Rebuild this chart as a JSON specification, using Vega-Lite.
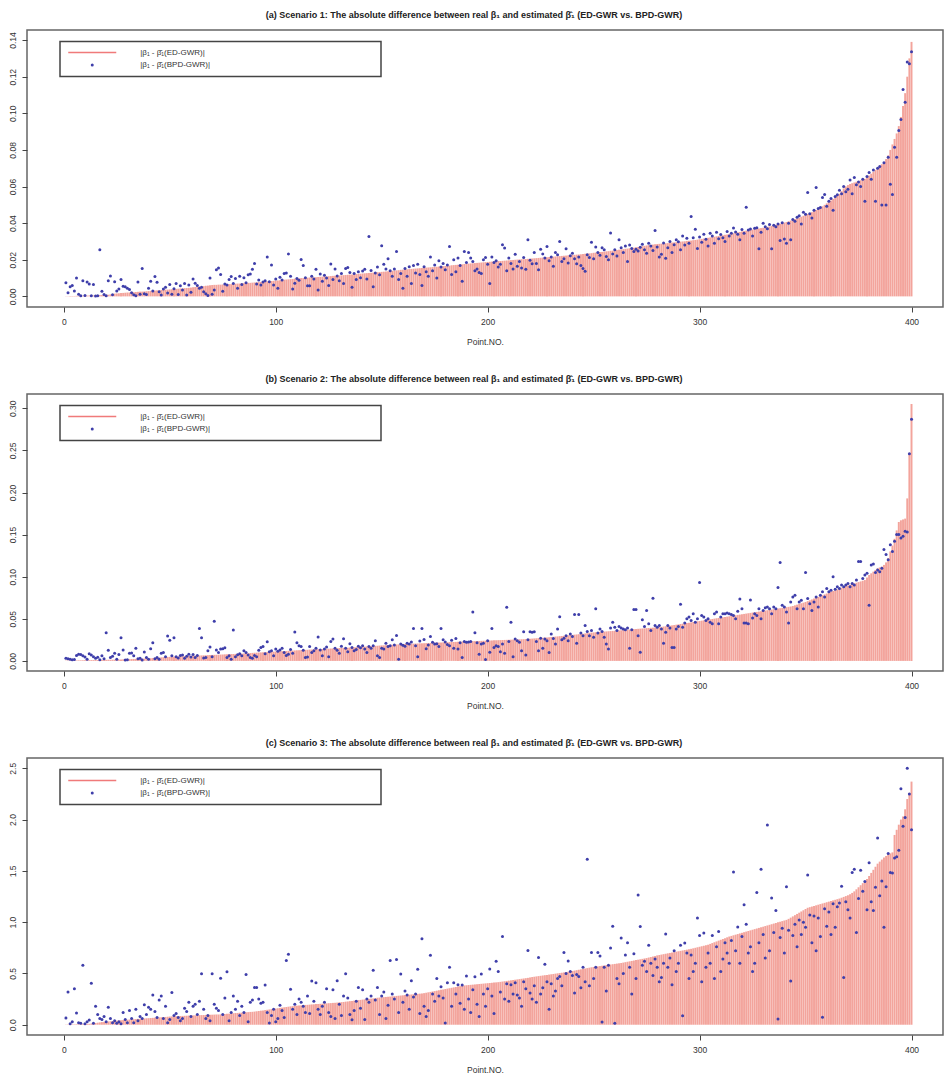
{
"$schema":"https://vega.github.io/schema/vega-lite/v6.json",
"background":"white",
"padding":{"left":7,"top":10,"right":0,"bottom":0},
"spacing":27,
"config":{
"view":{"stroke":"#666","strokeWidth":1.5},
"font":"Liberation Sans",
"axis":{"grid":false,"domain":false,"tickColor":"#444","tickSize":5,"labelColor":"#333","labelFontSize":8.5,"labelFont":"Liberation Sans","titleFont":"Liberation Sans","titleFontWeight":"normal","titleFontSize":8.5,"titleColor":"#333","labelOverlap":false},
"axisX":{"labelPadding":5,"titlePadding":12},
"axisY":{"labelAngle":270,"labelAlign":"center","labelBaseline":"bottom","labelPadding":5,"labelOverlap":false},
"title":{"fontSize":9,"fontWeight":"bold","color":"#222","offset":10,"dx":-11,"font":"Liberation Sans"},
"legend":{"strokeColor":"#444","strokeWidth":1.5}
},
"resolve":{"scale":{"x":"independent","y":"independent","color":"independent"},"legend":{"color":"independent"}},
"datasets":{
"a":[
{"p":1,"e":0.0001,"b":0.0075},{"p":2,"e":0.0001,"b":0.002},{"p":3,"e":0.0002,"b":0.0052},{"p":4,"e":0.0002,"b":0.006},{"p":5,"e":0.0002,"b":0.003},{"p":6,"e":0.0003,"b":0.01},{"p":7,"e":0.0003,"b":0.0012},{"p":8,"e":0.0003,"b":0.0004},{"p":9,"e":0.0004,"b":0.0085},{"p":10,"e":0.0004,"b":0.0005},
{"p":11,"e":0.0004,"b":0.0078},{"p":12,"e":0.0005,"b":0.0068},{"p":13,"e":0.0005,"b":0.0003},{"p":14,"e":0.0005,"b":0.0065},{"p":15,"e":0.0006,"b":0.0002},{"p":16,"e":0.0006,"b":0.0004},{"p":17,"e":0.0007,"b":0.0255},{"p":18,"e":0.0007,"b":0.0028},{"p":19,"e":0.0008,"b":0.001},{"p":20,"e":0.0008,"b":0.0004},
{"p":21,"e":0.0009,"b":0.0085},{"p":22,"e":0.0011,"b":0.0112},{"p":23,"e":0.0013,"b":0.0009},{"p":24,"e":0.0015,"b":0.008},{"p":25,"e":0.0016,"b":0.003},{"p":26,"e":0.0017,"b":0.004},{"p":27,"e":0.0018,"b":0.0092},{"p":28,"e":0.0019,"b":0.0056},{"p":29,"e":0.002,"b":0.0052},{"p":30,"e":0.0021,"b":0.0045},
{"p":31,"e":0.0021,"b":0.0038},{"p":32,"e":0.0022,"b":0.002},{"p":33,"e":0.0023,"b":0.0009},{"p":34,"e":0.0024,"b":0.0003},{"p":35,"e":0.0025,"b":0.0078},{"p":36,"e":0.0026,"b":0.0012},{"p":37,"e":0.0026,"b":0.0152},{"p":38,"e":0.0027,"b":0.0015},{"p":39,"e":0.0028,"b":0.001},{"p":40,"e":0.0029,"b":0.0045},
{"p":41,"e":0.003,"b":0.0082},{"p":42,"e":0.0031,"b":0.003},{"p":43,"e":0.0032,"b":0.0108},{"p":44,"e":0.0033,"b":0.0077},{"p":45,"e":0.0034,"b":0.0025},{"p":46,"e":0.0035,"b":0.0008},{"p":47,"e":0.0036,"b":0.004},{"p":48,"e":0.0037,"b":0.005},{"p":49,"e":0.0037,"b":0.0018},{"p":50,"e":0.0038,"b":0.0065},
{"p":51,"e":0.0039,"b":0.0012},{"p":52,"e":0.004,"b":0.0042},{"p":53,"e":0.0041,"b":0.007},{"p":54,"e":0.0042,"b":0.001},{"p":55,"e":0.0043,"b":0.0058},{"p":56,"e":0.0044,"b":0.0035},{"p":57,"e":0.0045,"b":0.007},{"p":58,"e":0.0046,"b":0.0008},{"p":59,"e":0.0047,"b":0.0062},{"p":60,"e":0.0048,"b":0.0022},
{"p":61,"e":0.005,"b":0.0095},{"p":62,"e":0.0051,"b":0.0072},{"p":63,"e":0.0053,"b":0.006},{"p":64,"e":0.0054,"b":0.0045},{"p":65,"e":0.0055,"b":0.005},{"p":66,"e":0.0056,"b":0.0025},{"p":67,"e":0.0058,"b":0.0015},{"p":68,"e":0.0059,"b":0.0005},{"p":69,"e":0.0061,"b":0.01},{"p":70,"e":0.0062,"b":0.0012},
{"p":71,"e":0.0063,"b":0.0035},{"p":72,"e":0.0063,"b":0.0145},{"p":73,"e":0.0064,"b":0.0155},{"p":74,"e":0.0064,"b":0.012},{"p":75,"e":0.0065,"b":0.0028},{"p":76,"e":0.0066,"b":0.0068},{"p":77,"e":0.0066,"b":0.0062},{"p":78,"e":0.0067,"b":0.0092},{"p":79,"e":0.0067,"b":0.0108},{"p":80,"e":0.0068,"b":0.007},
{"p":81,"e":0.0069,"b":0.0098},{"p":82,"e":0.007,"b":0.0045},{"p":83,"e":0.007,"b":0.011},{"p":84,"e":0.0071,"b":0.0065},{"p":85,"e":0.0072,"b":0.0102},{"p":86,"e":0.0073,"b":0.0075},{"p":87,"e":0.0074,"b":0.0118},{"p":88,"e":0.0074,"b":0.0122},{"p":89,"e":0.0075,"b":0.0148},{"p":90,"e":0.0076,"b":0.018},
{"p":91,"e":0.0077,"b":0.0068},{"p":92,"e":0.0078,"b":0.009},{"p":93,"e":0.0079,"b":0.0062},{"p":94,"e":0.008,"b":0.0078},{"p":95,"e":0.0081,"b":0.0085},{"p":96,"e":0.0082,"b":0.0215},{"p":97,"e":0.0083,"b":0.008},{"p":98,"e":0.0084,"b":0.0172},{"p":99,"e":0.0085,"b":0.0062},{"p":100,"e":0.0086,"b":0.0095},
{"p":101,"e":0.0087,"b":0.0045},{"p":102,"e":0.0088,"b":0.0105},{"p":103,"e":0.0089,"b":0.009},{"p":104,"e":0.0091,"b":0.0125},{"p":105,"e":0.0092,"b":0.0128},{"p":106,"e":0.0093,"b":0.0232},{"p":107,"e":0.0094,"b":0.011},{"p":108,"e":0.0095,"b":0.004},{"p":109,"e":0.0097,"b":0.0072},{"p":110,"e":0.0098,"b":0.0098},
{"p":111,"e":0.0099,"b":0.0088},{"p":112,"e":0.01,"b":0.0202},{"p":113,"e":0.01,"b":0.0168},{"p":114,"e":0.0101,"b":0.0102},{"p":115,"e":0.0102,"b":0.0058},{"p":116,"e":0.0103,"b":0.0058},{"p":117,"e":0.0104,"b":0.011},{"p":118,"e":0.0104,"b":0.0095},{"p":119,"e":0.0105,"b":0.0148},{"p":120,"e":0.0106,"b":0.0035},
{"p":121,"e":0.0107,"b":0.0122},{"p":122,"e":0.0108,"b":0.0082},{"p":123,"e":0.0109,"b":0.0115},{"p":124,"e":0.0109,"b":0.01},{"p":125,"e":0.011,"b":0.006},{"p":126,"e":0.0111,"b":0.0177},{"p":127,"e":0.0112,"b":0.0092},{"p":128,"e":0.0113,"b":0.015},{"p":129,"e":0.0113,"b":0.0112},{"p":130,"e":0.0114,"b":0.0085},
{"p":131,"e":0.0115,"b":0.0125},{"p":132,"e":0.0116,"b":0.007},{"p":133,"e":0.0117,"b":0.0152},{"p":134,"e":0.0118,"b":0.0158},{"p":135,"e":0.0119,"b":0.013},{"p":136,"e":0.012,"b":0.005},{"p":137,"e":0.0121,"b":0.0125},{"p":138,"e":0.0122,"b":0.0092},{"p":139,"e":0.0123,"b":0.0135},{"p":140,"e":0.0124,"b":0.0102},
{"p":141,"e":0.0125,"b":0.0138},{"p":142,"e":0.0126,"b":0.0148},{"p":143,"e":0.0127,"b":0.0095},{"p":144,"e":0.0128,"b":0.0327},{"p":145,"e":0.0129,"b":0.0142},{"p":146,"e":0.013,"b":0.0052},{"p":147,"e":0.0131,"b":0.0128},{"p":148,"e":0.0132,"b":0.016},{"p":149,"e":0.0133,"b":0.0118},{"p":150,"e":0.0134,"b":0.0276},
{"p":151,"e":0.0135,"b":0.0175},{"p":152,"e":0.0136,"b":0.015},{"p":153,"e":0.0137,"b":0.0205},{"p":154,"e":0.0139,"b":0.014},{"p":155,"e":0.014,"b":0.011},{"p":156,"e":0.0141,"b":0.015},{"p":157,"e":0.0142,"b":0.0245},{"p":158,"e":0.0143,"b":0.0092},{"p":159,"e":0.0145,"b":0.0125},{"p":160,"e":0.0146,"b":0.0045},
{"p":161,"e":0.0147,"b":0.0152},{"p":162,"e":0.0148,"b":0.011},{"p":163,"e":0.0149,"b":0.0162},{"p":164,"e":0.015,"b":0.007},{"p":165,"e":0.0151,"b":0.0168},{"p":166,"e":0.0152,"b":0.0128},{"p":167,"e":0.0153,"b":0.0175},{"p":168,"e":0.0154,"b":0.012},{"p":169,"e":0.0155,"b":0.006},{"p":170,"e":0.0156,"b":0.0162},
{"p":171,"e":0.0157,"b":0.0135},{"p":172,"e":0.0158,"b":0.011},{"p":173,"e":0.0159,"b":0.0215},{"p":174,"e":0.016,"b":0.014},{"p":175,"e":0.0161,"b":0.0172},{"p":176,"e":0.0162,"b":0.01},{"p":177,"e":0.0163,"b":0.0195},{"p":178,"e":0.0164,"b":0.016},{"p":179,"e":0.0165,"b":0.018},{"p":180,"e":0.0166,"b":0.0145},
{"p":181,"e":0.0167,"b":0.0172},{"p":182,"e":0.0168,"b":0.0273},{"p":183,"e":0.017,"b":0.012},{"p":184,"e":0.0171,"b":0.02},{"p":185,"e":0.0172,"b":0.0135},{"p":186,"e":0.0173,"b":0.021},{"p":187,"e":0.0174,"b":0.0168},{"p":188,"e":0.0175,"b":0.0082},{"p":189,"e":0.0177,"b":0.0245},{"p":190,"e":0.0178,"b":0.0185},
{"p":191,"e":0.0179,"b":0.024},{"p":192,"e":0.018,"b":0.021},{"p":193,"e":0.0181,"b":0.019},{"p":194,"e":0.0182,"b":0.014},{"p":195,"e":0.0183,"b":0.015},{"p":196,"e":0.0184,"b":0.013},{"p":197,"e":0.0185,"b":0.0125},{"p":198,"e":0.0186,"b":0.02},{"p":199,"e":0.0187,"b":0.0212},{"p":200,"e":0.0188,"b":0.0175},
{"p":201,"e":0.0189,"b":0.0071},{"p":202,"e":0.019,"b":0.0215},{"p":203,"e":0.0191,"b":0.0185},{"p":204,"e":0.0192,"b":0.0195},{"p":205,"e":0.0193,"b":0.016},{"p":206,"e":0.0193,"b":0.0175},{"p":207,"e":0.0194,"b":0.0282},{"p":208,"e":0.0195,"b":0.0264},{"p":209,"e":0.0196,"b":0.014},{"p":210,"e":0.0197,"b":0.021},
{"p":211,"e":0.0198,"b":0.018},{"p":212,"e":0.0199,"b":0.015},{"p":213,"e":0.02,"b":0.023},{"p":214,"e":0.0201,"b":0.0165},{"p":215,"e":0.0202,"b":0.019},{"p":216,"e":0.0203,"b":0.0155},{"p":217,"e":0.0203,"b":0.0212},{"p":218,"e":0.0204,"b":0.0148},{"p":219,"e":0.0205,"b":0.0309},{"p":220,"e":0.0206,"b":0.0198},
{"p":221,"e":0.0207,"b":0.0178},{"p":222,"e":0.0208,"b":0.024},{"p":223,"e":0.0209,"b":0.018},{"p":224,"e":0.021,"b":0.0145},{"p":225,"e":0.0211,"b":0.0258},{"p":226,"e":0.0212,"b":0.0232},{"p":227,"e":0.0213,"b":0.021},{"p":228,"e":0.0214,"b":0.0273},{"p":229,"e":0.0215,"b":0.0195},{"p":230,"e":0.0216,"b":0.0215},
{"p":231,"e":0.0217,"b":0.0165},{"p":232,"e":0.0218,"b":0.024},{"p":233,"e":0.0219,"b":0.0228},{"p":234,"e":0.022,"b":0.03},{"p":235,"e":0.0221,"b":0.019},{"p":236,"e":0.0222,"b":0.0205},{"p":237,"e":0.0223,"b":0.026},{"p":238,"e":0.0224,"b":0.0182},{"p":239,"e":0.0225,"b":0.0222},{"p":240,"e":0.0226,"b":0.0235},
{"p":241,"e":0.0227,"b":0.0205},{"p":242,"e":0.0228,"b":0.0178},{"p":243,"e":0.0229,"b":0.0215},{"p":244,"e":0.023,"b":0.0168},{"p":245,"e":0.0231,"b":0.0152},{"p":246,"e":0.0233,"b":0.0137},{"p":247,"e":0.0234,"b":0.0228},{"p":248,"e":0.0235,"b":0.0212},{"p":249,"e":0.0236,"b":0.0295},{"p":250,"e":0.0238,"b":0.0205},
{"p":251,"e":0.0239,"b":0.027},{"p":252,"e":0.024,"b":0.024},{"p":253,"e":0.0242,"b":0.0225},{"p":254,"e":0.0243,"b":0.0265},{"p":255,"e":0.0244,"b":0.0255},{"p":256,"e":0.0246,"b":0.0218},{"p":257,"e":0.0247,"b":0.02},{"p":258,"e":0.0249,"b":0.0346},{"p":259,"e":0.025,"b":0.0232},{"p":260,"e":0.0252,"b":0.0255},
{"p":261,"e":0.0253,"b":0.022},{"p":262,"e":0.0255,"b":0.031},{"p":263,"e":0.0256,"b":0.0265},{"p":264,"e":0.0258,"b":0.024},{"p":265,"e":0.026,"b":0.0275},{"p":266,"e":0.0261,"b":0.019},{"p":267,"e":0.0263,"b":0.028},{"p":268,"e":0.0265,"b":0.0262},{"p":269,"e":0.0266,"b":0.0245},{"p":270,"e":0.0268,"b":0.0258},
{"p":271,"e":0.027,"b":0.0248},{"p":272,"e":0.0272,"b":0.0268},{"p":273,"e":0.0274,"b":0.0285},{"p":274,"e":0.0276,"b":0.0255},{"p":275,"e":0.0278,"b":0.0235},{"p":276,"e":0.028,"b":0.029},{"p":277,"e":0.0281,"b":0.0275},{"p":278,"e":0.0283,"b":0.025},{"p":279,"e":0.0285,"b":0.036},{"p":280,"e":0.0286,"b":0.027},
{"p":281,"e":0.0287,"b":0.0215},{"p":282,"e":0.0288,"b":0.023},{"p":283,"e":0.0289,"b":0.0292},{"p":284,"e":0.029,"b":0.0208},{"p":285,"e":0.0291,"b":0.0265},{"p":286,"e":0.0292,"b":0.03},{"p":287,"e":0.0294,"b":0.024},{"p":288,"e":0.0295,"b":0.0282},{"p":289,"e":0.0296,"b":0.031},{"p":290,"e":0.0298,"b":0.0298},
{"p":291,"e":0.0299,"b":0.0255},{"p":292,"e":0.03,"b":0.033},{"p":293,"e":0.0301,"b":0.028},{"p":294,"e":0.0303,"b":0.0318},{"p":295,"e":0.0304,"b":0.029},{"p":296,"e":0.0305,"b":0.0436},{"p":297,"e":0.0307,"b":0.032},{"p":298,"e":0.0308,"b":0.0367},{"p":299,"e":0.031,"b":0.0262},{"p":300,"e":0.0312,"b":0.0325},
{"p":301,"e":0.0314,"b":0.0295},{"p":302,"e":0.0316,"b":0.034},{"p":303,"e":0.0318,"b":0.0312},{"p":304,"e":0.032,"b":0.0275},{"p":305,"e":0.0322,"b":0.0345},{"p":306,"e":0.0324,"b":0.033},{"p":307,"e":0.0326,"b":0.029},{"p":308,"e":0.0328,"b":0.035},{"p":309,"e":0.033,"b":0.0315},{"p":310,"e":0.0332,"b":0.0338},
{"p":311,"e":0.0334,"b":0.032},{"p":312,"e":0.0336,"b":0.03},{"p":313,"e":0.0338,"b":0.0355},{"p":314,"e":0.0341,"b":0.033},{"p":315,"e":0.0343,"b":0.0345},{"p":316,"e":0.0345,"b":0.0373},{"p":317,"e":0.0348,"b":0.0352},{"p":318,"e":0.035,"b":0.034},{"p":319,"e":0.0352,"b":0.031},{"p":320,"e":0.0355,"b":0.0365},
{"p":321,"e":0.0357,"b":0.0345},{"p":322,"e":0.0359,"b":0.0487},{"p":323,"e":0.0361,"b":0.0362},{"p":324,"e":0.0363,"b":0.0368},{"p":325,"e":0.0365,"b":0.033},{"p":326,"e":0.0367,"b":0.0372},{"p":327,"e":0.0369,"b":0.0375},{"p":328,"e":0.0371,"b":0.026},{"p":329,"e":0.0373,"b":0.035},{"p":330,"e":0.0375,"b":0.04},
{"p":331,"e":0.0377,"b":0.038},{"p":332,"e":0.038,"b":0.037},{"p":333,"e":0.0382,"b":0.0392},{"p":334,"e":0.0385,"b":0.026},{"p":335,"e":0.0388,"b":0.0388},{"p":336,"e":0.0391,"b":0.038},{"p":337,"e":0.0394,"b":0.0395},{"p":338,"e":0.0397,"b":0.0305},{"p":339,"e":0.04,"b":0.0402},{"p":340,"e":0.0403,"b":0.0313},
{"p":341,"e":0.0406,"b":0.029},{"p":342,"e":0.041,"b":0.04},{"p":343,"e":0.0414,"b":0.031},{"p":344,"e":0.0418,"b":0.042},{"p":345,"e":0.0422,"b":0.041},{"p":346,"e":0.0426,"b":0.0432},{"p":347,"e":0.043,"b":0.044},{"p":348,"e":0.0435,"b":0.0395},{"p":349,"e":0.044,"b":0.046},{"p":350,"e":0.0445,"b":0.0448},
{"p":351,"e":0.045,"b":0.0568},{"p":352,"e":0.0455,"b":0.0452},{"p":353,"e":0.046,"b":0.0428},{"p":354,"e":0.0466,"b":0.047},{"p":355,"e":0.0472,"b":0.0595},{"p":356,"e":0.0478,"b":0.048},{"p":357,"e":0.0485,"b":0.0485},{"p":358,"e":0.0492,"b":0.054},{"p":359,"e":0.05,"b":0.0556},{"p":360,"e":0.0508,"b":0.0492},
{"p":361,"e":0.0516,"b":0.052},{"p":362,"e":0.0524,"b":0.0535},{"p":363,"e":0.0532,"b":0.047},{"p":364,"e":0.054,"b":0.0545},{"p":365,"e":0.055,"b":0.0555},{"p":366,"e":0.056,"b":0.058},{"p":367,"e":0.0575,"b":0.056},{"p":368,"e":0.059,"b":0.06},{"p":369,"e":0.06,"b":0.0572},{"p":370,"e":0.0608,"b":0.0585},
{"p":371,"e":0.0614,"b":0.0636},{"p":372,"e":0.0618,"b":0.056},{"p":373,"e":0.0622,"b":0.065},{"p":374,"e":0.0626,"b":0.061},{"p":375,"e":0.063,"b":0.0625},{"p":376,"e":0.0634,"b":0.06},{"p":377,"e":0.0638,"b":0.064},{"p":378,"e":0.0642,"b":0.052},{"p":379,"e":0.065,"b":0.0655},{"p":380,"e":0.066,"b":0.0677},
{"p":381,"e":0.067,"b":0.064},{"p":382,"e":0.068,"b":0.069},{"p":383,"e":0.069,"b":0.052},{"p":384,"e":0.07,"b":0.07},{"p":385,"e":0.071,"b":0.071},{"p":386,"e":0.0722,"b":0.0499},{"p":387,"e":0.0735,"b":0.073},{"p":388,"e":0.075,"b":0.0499},{"p":389,"e":0.077,"b":0.076},{"p":390,"e":0.08,"b":0.0613},
{"p":391,"e":0.083,"b":0.0556},{"p":392,"e":0.086,"b":0.0815},{"p":393,"e":0.089,"b":0.076},{"p":394,"e":0.093,"b":0.0906},{"p":395,"e":0.098,"b":0.0966},{"p":396,"e":0.104,"b":0.113},{"p":397,"e":0.111,"b":0.106},{"p":398,"e":0.12,"b":0.128},{"p":399,"e":0.13,"b":0.127},{"p":400,"e":0.139,"b":0.1336}
],
"b":[
{"p":1,"e":0.0003,"b":0.003},{"p":2,"e":0.0004,"b":0.0025},{"p":3,"e":0.0005,"b":0.002},{"p":4,"e":0.0005,"b":0.0015},{"p":5,"e":0.0006,"b":0.0018},{"p":6,"e":0.0006,"b":0.0065},{"p":7,"e":0.0007,"b":0.008},{"p":8,"e":0.0007,"b":0.0075},{"p":9,"e":0.0008,"b":0.006},{"p":10,"e":0.0008,"b":0.0045},
{"p":11,"e":0.0009,"b":0.002},{"p":12,"e":0.0009,"b":0.0085},{"p":13,"e":0.001,"b":0.007},{"p":14,"e":0.001,"b":0.005},{"p":15,"e":0.0011,"b":0.003},{"p":16,"e":0.0011,"b":0.0042},{"p":17,"e":0.0012,"b":0.0015},{"p":18,"e":0.0012,"b":0.006},{"p":19,"e":0.0013,"b":0.0025},{"p":20,"e":0.0013,"b":0.0335},
{"p":21,"e":0.0014,"b":0.0126},{"p":22,"e":0.0014,"b":0.004},{"p":23,"e":0.0015,"b":0.0055},{"p":24,"e":0.0015,"b":0.0092},{"p":25,"e":0.0016,"b":0.002},{"p":26,"e":0.0016,"b":0.0075},{"p":27,"e":0.0017,"b":0.0275},{"p":28,"e":0.0018,"b":0.013},{"p":29,"e":0.0019,"b":0.0012},{"p":30,"e":0.002,"b":0.0015},
{"p":31,"e":0.0021,"b":0.009},{"p":32,"e":0.0022,"b":0.0095},{"p":33,"e":0.0023,"b":0.006},{"p":34,"e":0.0024,"b":0.015},{"p":35,"e":0.0025,"b":0.0025},{"p":36,"e":0.0026,"b":0.003},{"p":37,"e":0.0027,"b":0.001},{"p":38,"e":0.0028,"b":0.0105},{"p":39,"e":0.0029,"b":0.004},{"p":40,"e":0.003,"b":0.002},
{"p":41,"e":0.0032,"b":0.0145},{"p":42,"e":0.0034,"b":0.0216},{"p":43,"e":0.0036,"b":0.0025},{"p":44,"e":0.0038,"b":0.004},{"p":45,"e":0.004,"b":0.002},{"p":46,"e":0.0042,"b":0.009},{"p":47,"e":0.0044,"b":0.01},{"p":48,"e":0.0045,"b":0.005},{"p":49,"e":0.0047,"b":0.0295},{"p":50,"e":0.0048,"b":0.0244},
{"p":51,"e":0.0049,"b":0.006},{"p":52,"e":0.005,"b":0.0275},{"p":53,"e":0.0052,"b":0.005},{"p":54,"e":0.0053,"b":0.0035},{"p":55,"e":0.0054,"b":0.0065},{"p":56,"e":0.0055,"b":0.007},{"p":57,"e":0.0057,"b":0.003},{"p":58,"e":0.0058,"b":0.0055},{"p":59,"e":0.0059,"b":0.008},{"p":60,"e":0.006,"b":0.0045},
{"p":61,"e":0.0061,"b":0.0075},{"p":62,"e":0.0062,"b":0.004},{"p":63,"e":0.0063,"b":0.0065},{"p":64,"e":0.0064,"b":0.0385},{"p":65,"e":0.0065,"b":0.0275},{"p":66,"e":0.0066,"b":0.0035},{"p":67,"e":0.0067,"b":0.004},{"p":68,"e":0.0068,"b":0.012},{"p":69,"e":0.007,"b":0.0165},{"p":70,"e":0.0071,"b":0.005},
{"p":71,"e":0.0072,"b":0.047},{"p":72,"e":0.0073,"b":0.013},{"p":73,"e":0.0074,"b":0.01},{"p":74,"e":0.0075,"b":0.014},{"p":75,"e":0.0076,"b":0.0145},{"p":76,"e":0.0078,"b":0.0155},{"p":77,"e":0.0079,"b":0.004},{"p":78,"e":0.008,"b":0.006},{"p":79,"e":0.0081,"b":0.002},{"p":80,"e":0.0082,"b":0.0366},
{"p":81,"e":0.0083,"b":0.005},{"p":82,"e":0.0085,"b":0.0072},{"p":83,"e":0.0086,"b":0.0085},{"p":84,"e":0.0087,"b":0.006},{"p":85,"e":0.0088,"b":0.012},{"p":86,"e":0.009,"b":0.01},{"p":87,"e":0.0091,"b":0.007},{"p":88,"e":0.0093,"b":0.004},{"p":89,"e":0.0095,"b":0.003},{"p":90,"e":0.0097,"b":0.0065},
{"p":91,"e":0.0098,"b":0.005},{"p":92,"e":0.01,"b":0.0125},{"p":93,"e":0.0101,"b":0.016},{"p":94,"e":0.0103,"b":0.017},{"p":95,"e":0.0104,"b":0.0085},{"p":96,"e":0.0106,"b":0.0228},{"p":97,"e":0.0107,"b":0.011},{"p":98,"e":0.0109,"b":0.012},{"p":99,"e":0.011,"b":0.006},{"p":100,"e":0.0112,"b":0.014},
{"p":101,"e":0.0113,"b":0.0115},{"p":102,"e":0.0114,"b":0.013},{"p":103,"e":0.0116,"b":0.015},{"p":104,"e":0.0117,"b":0.01},{"p":105,"e":0.0118,"b":0.0065},{"p":106,"e":0.012,"b":0.008},{"p":107,"e":0.0121,"b":0.0135},{"p":108,"e":0.0123,"b":0.009},{"p":109,"e":0.0124,"b":0.0342},{"p":110,"e":0.0126,"b":0.0216},
{"p":111,"e":0.0127,"b":0.018},{"p":112,"e":0.0128,"b":0.017},{"p":113,"e":0.013,"b":0.0125},{"p":114,"e":0.0131,"b":0.004},{"p":115,"e":0.0132,"b":0.0045},{"p":116,"e":0.0134,"b":0.017},{"p":117,"e":0.0135,"b":0.01},{"p":118,"e":0.0136,"b":0.012},{"p":119,"e":0.0137,"b":0.015},{"p":120,"e":0.0139,"b":0.0283},
{"p":121,"e":0.014,"b":0.013},{"p":122,"e":0.0141,"b":0.006},{"p":123,"e":0.0143,"b":0.014},{"p":124,"e":0.0144,"b":0.0165},{"p":125,"e":0.0145,"b":0.005},{"p":126,"e":0.0147,"b":0.023},{"p":127,"e":0.0148,"b":0.026},{"p":128,"e":0.015,"b":0.015},{"p":129,"e":0.0151,"b":0.0125},{"p":130,"e":0.0153,"b":0.009},
{"p":131,"e":0.0154,"b":0.0175},{"p":132,"e":0.0155,"b":0.0264},{"p":133,"e":0.0156,"b":0.015},{"p":134,"e":0.0157,"b":0.011},{"p":135,"e":0.0159,"b":0.0205},{"p":136,"e":0.016,"b":0.016},{"p":137,"e":0.0162,"b":0.012},{"p":138,"e":0.0164,"b":0.0135},{"p":139,"e":0.0165,"b":0.0175},{"p":140,"e":0.0167,"b":0.0155},
{"p":141,"e":0.0169,"b":0.018},{"p":142,"e":0.017,"b":0.014},{"p":143,"e":0.0172,"b":0.01},{"p":144,"e":0.0174,"b":0.017},{"p":145,"e":0.0175,"b":0.015},{"p":146,"e":0.0177,"b":0.018},{"p":147,"e":0.0179,"b":0.024},{"p":148,"e":0.018,"b":0.006},{"p":149,"e":0.0182,"b":0.004},{"p":150,"e":0.0184,"b":0.015},
{"p":151,"e":0.0185,"b":0.014},{"p":152,"e":0.0187,"b":0.021},{"p":153,"e":0.0188,"b":0.017},{"p":154,"e":0.019,"b":0.018},{"p":155,"e":0.0192,"b":0.025},{"p":156,"e":0.0193,"b":0.019},{"p":157,"e":0.0195,"b":0.0303},{"p":158,"e":0.0196,"b":0.002},{"p":159,"e":0.0197,"b":0.02},{"p":160,"e":0.0199,"b":0.0185},
{"p":161,"e":0.02,"b":0.0175},{"p":162,"e":0.0201,"b":0.021},{"p":163,"e":0.0202,"b":0.02},{"p":164,"e":0.0203,"b":0.0225},{"p":165,"e":0.0205,"b":0.0385},{"p":166,"e":0.0206,"b":0.018},{"p":167,"e":0.0207,"b":0.005},{"p":168,"e":0.0208,"b":0.0235},{"p":169,"e":0.0209,"b":0.0385},{"p":170,"e":0.021,"b":0.0255},
{"p":171,"e":0.0211,"b":0.0145},{"p":172,"e":0.0212,"b":0.019},{"p":173,"e":0.0213,"b":0.029},{"p":174,"e":0.0215,"b":0.022},{"p":175,"e":0.0216,"b":0.02},{"p":176,"e":0.0217,"b":0.0205},{"p":177,"e":0.0218,"b":0.017},{"p":178,"e":0.0219,"b":0.0385},{"p":179,"e":0.022,"b":0.025},{"p":180,"e":0.0221,"b":0.0225},
{"p":181,"e":0.0222,"b":0.0195},{"p":182,"e":0.0223,"b":0.018},{"p":183,"e":0.0224,"b":0.0245},{"p":184,"e":0.0225,"b":0.015},{"p":185,"e":0.0226,"b":0.0265},{"p":186,"e":0.0227,"b":0.014},{"p":187,"e":0.0228,"b":0.0215},{"p":188,"e":0.0229,"b":0.004},{"p":189,"e":0.023,"b":0.023},{"p":190,"e":0.0231,"b":0.022},
{"p":191,"e":0.0232,"b":0.0225},{"p":192,"e":0.0233,"b":0.023},{"p":193,"e":0.0234,"b":0.058},{"p":194,"e":0.0235,"b":0.0335},{"p":195,"e":0.0236,"b":0.0215},{"p":196,"e":0.0237,"b":0.008},{"p":197,"e":0.0238,"b":0.02},{"p":198,"e":0.0239,"b":0.021},{"p":199,"e":0.024,"b":0.0016},{"p":200,"e":0.0241,"b":0.024},
{"p":201,"e":0.0242,"b":0.0104},{"p":202,"e":0.0243,"b":0.0385},{"p":203,"e":0.0244,"b":0.016},{"p":204,"e":0.0245,"b":0.018},{"p":205,"e":0.0246,"b":0.017},{"p":206,"e":0.0247,"b":0.011},{"p":207,"e":0.0248,"b":0.02},{"p":208,"e":0.0249,"b":0.009},{"p":209,"e":0.025,"b":0.0636},{"p":210,"e":0.0251,"b":0.023},
{"p":211,"e":0.0252,"b":0.046},{"p":212,"e":0.0253,"b":0.005},{"p":213,"e":0.0254,"b":0.026},{"p":214,"e":0.0255,"b":0.024},{"p":215,"e":0.0256,"b":0.022},{"p":216,"e":0.0257,"b":0.012},{"p":217,"e":0.0258,"b":0.0346},{"p":218,"e":0.0259,"b":0.0069},{"p":219,"e":0.0261,"b":0.025},{"p":220,"e":0.0263,"b":0.0345},
{"p":221,"e":0.0265,"b":0.034},{"p":222,"e":0.0267,"b":0.0345},{"p":223,"e":0.0269,"b":0.023},{"p":224,"e":0.0271,"b":0.012},{"p":225,"e":0.0273,"b":0.027},{"p":226,"e":0.0275,"b":0.015},{"p":227,"e":0.0277,"b":0.026},{"p":228,"e":0.0279,"b":0.024},{"p":229,"e":0.0281,"b":0.01},{"p":230,"e":0.0284,"b":0.032},
{"p":231,"e":0.0286,"b":0.0265},{"p":232,"e":0.0289,"b":0.02},{"p":233,"e":0.0291,"b":0.038},{"p":234,"e":0.0294,"b":0.0523},{"p":235,"e":0.0296,"b":0.025},{"p":236,"e":0.0299,"b":0.027},{"p":237,"e":0.0301,"b":0.03},{"p":238,"e":0.0304,"b":0.024},{"p":239,"e":0.0307,"b":0.032},{"p":240,"e":0.0309,"b":0.029},
{"p":241,"e":0.0312,"b":0.055},{"p":242,"e":0.0314,"b":0.021},{"p":243,"e":0.0317,"b":0.055},{"p":244,"e":0.032,"b":0.033},{"p":245,"e":0.0323,"b":0.03},{"p":246,"e":0.0326,"b":0.042},{"p":247,"e":0.033,"b":0.035},{"p":248,"e":0.0334,"b":0.03},{"p":249,"e":0.0336,"b":0.036},{"p":250,"e":0.0338,"b":0.028},
{"p":251,"e":0.034,"b":0.062},{"p":252,"e":0.0342,"b":0.033},{"p":253,"e":0.0344,"b":0.038},{"p":254,"e":0.0346,"b":0.035},{"p":255,"e":0.0348,"b":0.028},{"p":256,"e":0.035,"b":0.02},{"p":257,"e":0.0352,"b":0.014},{"p":258,"e":0.0354,"b":0.039},{"p":259,"e":0.0356,"b":0.046},{"p":260,"e":0.0358,"b":0.04},
{"p":261,"e":0.036,"b":0.036},{"p":262,"e":0.0362,"b":0.041},{"p":263,"e":0.0364,"b":0.039},{"p":264,"e":0.0366,"b":0.038},{"p":265,"e":0.0368,"b":0.037},{"p":266,"e":0.037,"b":0.039},{"p":267,"e":0.0372,"b":0.015},{"p":268,"e":0.0374,"b":0.037},{"p":269,"e":0.0377,"b":0.0611},{"p":270,"e":0.0379,"b":0.0611},
{"p":271,"e":0.0381,"b":0.03},{"p":272,"e":0.0383,"b":0.0104},{"p":273,"e":0.0385,"b":0.049},{"p":274,"e":0.0387,"b":0.041},{"p":275,"e":0.0389,"b":0.06},{"p":276,"e":0.0391,"b":0.044},{"p":277,"e":0.0393,"b":0.036},{"p":278,"e":0.0395,"b":0.0743},{"p":279,"e":0.0397,"b":0.042},{"p":280,"e":0.0399,"b":0.04},
{"p":281,"e":0.0401,"b":0.042},{"p":282,"e":0.0404,"b":0.038},{"p":283,"e":0.0408,"b":0.021},{"p":284,"e":0.0411,"b":0.034},{"p":285,"e":0.0415,"b":0.042},{"p":286,"e":0.0418,"b":0.039},{"p":287,"e":0.0422,"b":0.016},{"p":288,"e":0.0426,"b":0.016},{"p":289,"e":0.043,"b":0.038},{"p":290,"e":0.0434,"b":0.041},
{"p":291,"e":0.0438,"b":0.0672},{"p":292,"e":0.0442,"b":0.04},{"p":293,"e":0.0446,"b":0.045},{"p":294,"e":0.045,"b":0.05},{"p":295,"e":0.0454,"b":0.052},{"p":296,"e":0.0458,"b":0.048},{"p":297,"e":0.0462,"b":0.056},{"p":298,"e":0.0466,"b":0.046},{"p":299,"e":0.047,"b":0.05},{"p":300,"e":0.0474,"b":0.093},
{"p":301,"e":0.0478,"b":0.054},{"p":302,"e":0.0482,"b":0.052},{"p":303,"e":0.0486,"b":0.048},{"p":304,"e":0.049,"b":0.05},{"p":305,"e":0.0494,"b":0.046},{"p":306,"e":0.0498,"b":0.044},{"p":307,"e":0.0502,"b":0.056},{"p":308,"e":0.0506,"b":0.058},{"p":309,"e":0.051,"b":0.044},{"p":310,"e":0.0514,"b":0.052},
{"p":311,"e":0.0518,"b":0.056},{"p":312,"e":0.0522,"b":0.056},{"p":313,"e":0.0526,"b":0.057},{"p":314,"e":0.053,"b":0.056},{"p":315,"e":0.0534,"b":0.055},{"p":316,"e":0.0538,"b":0.054},{"p":317,"e":0.0542,"b":0.05},{"p":318,"e":0.0546,"b":0.059},{"p":319,"e":0.055,"b":0.0735},{"p":320,"e":0.0554,"b":0.062},
{"p":321,"e":0.0558,"b":0.045},{"p":322,"e":0.0562,"b":0.045},{"p":323,"e":0.0566,"b":0.044},{"p":324,"e":0.057,"b":0.0722},{"p":325,"e":0.0574,"b":0.051},{"p":326,"e":0.0578,"b":0.056},{"p":327,"e":0.0582,"b":0.054},{"p":328,"e":0.0586,"b":0.062},{"p":329,"e":0.059,"b":0.05},{"p":330,"e":0.0594,"b":0.06},
{"p":331,"e":0.0598,"b":0.063},{"p":332,"e":0.0602,"b":0.064},{"p":333,"e":0.0606,"b":0.062},{"p":334,"e":0.061,"b":0.056},{"p":335,"e":0.0614,"b":0.064},{"p":336,"e":0.0618,"b":0.062},{"p":337,"e":0.0622,"b":0.0872},{"p":338,"e":0.0626,"b":0.117},{"p":339,"e":0.063,"b":0.066},{"p":340,"e":0.0634,"b":0.064},
{"p":341,"e":0.0638,"b":0.058},{"p":342,"e":0.0642,"b":0.045},{"p":343,"e":0.0646,"b":0.07},{"p":344,"e":0.0652,"b":0.076},{"p":345,"e":0.066,"b":0.078},{"p":346,"e":0.0668,"b":0.062},{"p":347,"e":0.0676,"b":0.07},{"p":348,"e":0.0684,"b":0.072},{"p":349,"e":0.0692,"b":0.062},{"p":350,"e":0.07,"b":0.105},
{"p":351,"e":0.071,"b":0.074},{"p":352,"e":0.072,"b":0.068},{"p":353,"e":0.073,"b":0.06},{"p":354,"e":0.074,"b":0.07},{"p":355,"e":0.075,"b":0.076},{"p":356,"e":0.076,"b":0.064},{"p":357,"e":0.077,"b":0.078},{"p":358,"e":0.078,"b":0.082},{"p":359,"e":0.079,"b":0.076},{"p":360,"e":0.08,"b":0.086},
{"p":361,"e":0.081,"b":0.082},{"p":362,"e":0.082,"b":0.084},{"p":363,"e":0.083,"b":0.0998},{"p":364,"e":0.084,"b":0.085},{"p":365,"e":0.085,"b":0.088},{"p":366,"e":0.086,"b":0.086},{"p":367,"e":0.087,"b":0.09},{"p":368,"e":0.088,"b":0.088},{"p":369,"e":0.0888,"b":0.09},{"p":370,"e":0.0896,"b":0.092},
{"p":371,"e":0.0904,"b":0.088},{"p":372,"e":0.0912,"b":0.092},{"p":373,"e":0.092,"b":0.09},{"p":374,"e":0.0928,"b":0.096},{"p":375,"e":0.0936,"b":0.118},{"p":376,"e":0.0944,"b":0.118},{"p":377,"e":0.0952,"b":0.098},{"p":378,"e":0.096,"b":0.102},{"p":379,"e":0.099,"b":0.104},{"p":380,"e":0.102,"b":0.0661},
{"p":381,"e":0.104,"b":0.114},{"p":382,"e":0.106,"b":0.115},{"p":383,"e":0.108,"b":0.105},{"p":384,"e":0.11,"b":0.108},{"p":385,"e":0.111,"b":0.106},{"p":386,"e":0.112,"b":0.11},{"p":387,"e":0.114,"b":0.1324},{"p":388,"e":0.117,"b":0.1264},{"p":389,"e":0.122,"b":0.12},{"p":390,"e":0.13,"b":0.138},
{"p":391,"e":0.137,"b":0.13},{"p":392,"e":0.145,"b":0.142},{"p":393,"e":0.155,"b":0.15},{"p":394,"e":0.165,"b":0.15},{"p":395,"e":0.167,"b":0.146},{"p":396,"e":0.168,"b":0.148},{"p":397,"e":0.169,"b":0.154},{"p":398,"e":0.193,"b":0.153},{"p":399,"e":0.247,"b":0.246},{"p":400,"e":0.305,"b":0.287}
],
"c":[
{"p":1,"e":0.002,"b":0.065},{"p":2,"e":0.003,"b":0.32},{"p":3,"e":0.003,"b":0.01},{"p":4,"e":0.004,"b":0.03},{"p":5,"e":0.004,"b":0.35},{"p":6,"e":0.005,"b":0.114},{"p":7,"e":0.005,"b":0.02},{"p":8,"e":0.006,"b":0.015},{"p":9,"e":0.006,"b":0.581},{"p":10,"e":0.007,"b":0.01},
{"p":11,"e":0.008,"b":0.03},{"p":12,"e":0.009,"b":0.045},{"p":13,"e":0.011,"b":0.404},{"p":14,"e":0.014,"b":0.015},{"p":15,"e":0.017,"b":0.18},{"p":16,"e":0.02,"b":0.1},{"p":17,"e":0.023,"b":0.06},{"p":18,"e":0.026,"b":0.05},{"p":19,"e":0.028,"b":0.08},{"p":20,"e":0.03,"b":0.03},
{"p":21,"e":0.032,"b":0.17},{"p":22,"e":0.034,"b":0.06},{"p":23,"e":0.036,"b":0.02},{"p":24,"e":0.038,"b":0.04},{"p":25,"e":0.04,"b":0.015},{"p":26,"e":0.042,"b":0.03},{"p":27,"e":0.044,"b":0.01},{"p":28,"e":0.046,"b":0.12},{"p":29,"e":0.047,"b":0.05},{"p":30,"e":0.049,"b":0.02},
{"p":31,"e":0.051,"b":0.14},{"p":32,"e":0.052,"b":0.06},{"p":33,"e":0.054,"b":0.02},{"p":34,"e":0.055,"b":0.15},{"p":35,"e":0.057,"b":0.04},{"p":36,"e":0.058,"b":0.08},{"p":37,"e":0.06,"b":0.06},{"p":38,"e":0.061,"b":0.194},{"p":39,"e":0.063,"b":0.1},{"p":40,"e":0.064,"b":0.17},
{"p":41,"e":0.066,"b":0.15},{"p":42,"e":0.067,"b":0.29},{"p":43,"e":0.069,"b":0.13},{"p":44,"e":0.07,"b":0.07},{"p":45,"e":0.072,"b":0.24},{"p":46,"e":0.073,"b":0.28},{"p":47,"e":0.075,"b":0.06},{"p":48,"e":0.076,"b":0.18},{"p":49,"e":0.078,"b":0.02},{"p":50,"e":0.08,"b":0.05},
{"p":51,"e":0.081,"b":0.314},{"p":52,"e":0.082,"b":0.09},{"p":53,"e":0.083,"b":0.11},{"p":54,"e":0.084,"b":0.07},{"p":55,"e":0.085,"b":0.04},{"p":56,"e":0.086,"b":0.06},{"p":57,"e":0.087,"b":0.16},{"p":58,"e":0.088,"b":0.13},{"p":59,"e":0.089,"b":0.22},{"p":60,"e":0.09,"b":0.08},
{"p":61,"e":0.091,"b":0.18},{"p":62,"e":0.092,"b":0.2},{"p":63,"e":0.093,"b":0.1},{"p":64,"e":0.094,"b":0.23},{"p":65,"e":0.094,"b":0.497},{"p":66,"e":0.095,"b":0.15},{"p":67,"e":0.096,"b":0.06},{"p":68,"e":0.097,"b":0.09},{"p":69,"e":0.098,"b":0.04},{"p":70,"e":0.098,"b":0.497},
{"p":71,"e":0.099,"b":0.2},{"p":72,"e":0.1,"b":0.16},{"p":73,"e":0.1,"b":0.14},{"p":74,"e":0.101,"b":0.452},{"p":75,"e":0.102,"b":0.1},{"p":76,"e":0.104,"b":0.26},{"p":77,"e":0.106,"b":0.516},{"p":78,"e":0.108,"b":0.04},{"p":79,"e":0.11,"b":0.12},{"p":80,"e":0.112,"b":0.28},
{"p":81,"e":0.114,"b":0.15},{"p":82,"e":0.115,"b":0.23},{"p":83,"e":0.117,"b":0.09},{"p":84,"e":0.118,"b":0.18},{"p":85,"e":0.12,"b":0.12},{"p":86,"e":0.121,"b":0.49},{"p":87,"e":0.123,"b":0.03},{"p":88,"e":0.125,"b":0.22},{"p":89,"e":0.126,"b":0.24},{"p":90,"e":0.128,"b":0.362},
{"p":91,"e":0.131,"b":0.362},{"p":92,"e":0.134,"b":0.25},{"p":93,"e":0.137,"b":0.21},{"p":94,"e":0.14,"b":0.22},{"p":95,"e":0.143,"b":0.387},{"p":96,"e":0.146,"b":0.12},{"p":97,"e":0.149,"b":0.016},{"p":98,"e":0.152,"b":0.09},{"p":99,"e":0.155,"b":0.15},{"p":100,"e":0.158,"b":0.03},
{"p":101,"e":0.161,"b":0.06},{"p":102,"e":0.164,"b":0.19},{"p":103,"e":0.167,"b":0.14},{"p":104,"e":0.17,"b":0.07},{"p":105,"e":0.173,"b":0.626},{"p":106,"e":0.176,"b":0.687},{"p":107,"e":0.179,"b":0.345},{"p":108,"e":0.181,"b":0.15},{"p":109,"e":0.183,"b":0.2},{"p":110,"e":0.186,"b":0.1},
{"p":111,"e":0.188,"b":0.25},{"p":112,"e":0.189,"b":0.22},{"p":113,"e":0.191,"b":0.18},{"p":114,"e":0.193,"b":0.12},{"p":115,"e":0.194,"b":0.28},{"p":116,"e":0.196,"b":0.11},{"p":117,"e":0.198,"b":0.426},{"p":118,"e":0.199,"b":0.23},{"p":119,"e":0.201,"b":0.41},{"p":120,"e":0.202,"b":0.15},
{"p":121,"e":0.204,"b":0.1},{"p":122,"e":0.205,"b":0.18},{"p":123,"e":0.207,"b":0.22},{"p":124,"e":0.208,"b":0.35},{"p":125,"e":0.21,"b":0.12},{"p":126,"e":0.211,"b":0.08},{"p":127,"e":0.213,"b":0.34},{"p":128,"e":0.214,"b":0.06},{"p":129,"e":0.216,"b":0.429},{"p":130,"e":0.218,"b":0.2},
{"p":131,"e":0.22,"b":0.09},{"p":132,"e":0.222,"b":0.28},{"p":133,"e":0.225,"b":0.497},{"p":134,"e":0.227,"b":0.26},{"p":135,"e":0.23,"b":0.1},{"p":136,"e":0.232,"b":0.049},{"p":137,"e":0.235,"b":0.14},{"p":138,"e":0.237,"b":0.23},{"p":139,"e":0.24,"b":0.362},{"p":140,"e":0.242,"b":0.16},
{"p":141,"e":0.245,"b":0.34},{"p":142,"e":0.247,"b":0.05},{"p":143,"e":0.25,"b":0.25},{"p":144,"e":0.252,"b":0.22},{"p":145,"e":0.255,"b":0.28},{"p":146,"e":0.257,"b":0.532},{"p":147,"e":0.26,"b":0.24},{"p":148,"e":0.263,"b":0.362},{"p":149,"e":0.265,"b":0.1},{"p":150,"e":0.267,"b":0.28},
{"p":151,"e":0.269,"b":0.32},{"p":152,"e":0.271,"b":0.06},{"p":153,"e":0.273,"b":0.19},{"p":154,"e":0.275,"b":0.626},{"p":155,"e":0.277,"b":0.3},{"p":156,"e":0.279,"b":0.25},{"p":157,"e":0.281,"b":0.635},{"p":158,"e":0.283,"b":0.12},{"p":159,"e":0.285,"b":0.494},{"p":160,"e":0.287,"b":0.22},
{"p":161,"e":0.289,"b":0.33},{"p":162,"e":0.291,"b":0.29},{"p":163,"e":0.293,"b":0.15},{"p":164,"e":0.295,"b":0.429},{"p":165,"e":0.297,"b":0.27},{"p":166,"e":0.299,"b":0.3},{"p":167,"e":0.301,"b":0.54},{"p":168,"e":0.303,"b":0.11},{"p":169,"e":0.305,"b":0.839},{"p":170,"e":0.308,"b":0.18},
{"p":171,"e":0.312,"b":0.08},{"p":172,"e":0.316,"b":0.14},{"p":173,"e":0.32,"b":0.677},{"p":174,"e":0.324,"b":0.3},{"p":175,"e":0.328,"b":0.23},{"p":176,"e":0.332,"b":0.45},{"p":177,"e":0.336,"b":0.28},{"p":178,"e":0.34,"b":0.37},{"p":179,"e":0.344,"b":0.26},{"p":180,"e":0.348,"b":0.016},
{"p":181,"e":0.352,"b":0.41},{"p":182,"e":0.356,"b":0.56},{"p":183,"e":0.36,"b":0.18},{"p":184,"e":0.364,"b":0.41},{"p":185,"e":0.368,"b":0.3},{"p":186,"e":0.372,"b":0.39},{"p":187,"e":0.376,"b":0.21},{"p":188,"e":0.38,"b":0.387},{"p":189,"e":0.383,"b":0.15},{"p":190,"e":0.385,"b":0.474},
{"p":191,"e":0.387,"b":0.25},{"p":192,"e":0.389,"b":0.12},{"p":193,"e":0.391,"b":0.34},{"p":194,"e":0.393,"b":0.468},{"p":195,"e":0.395,"b":0.2},{"p":196,"e":0.397,"b":0.08},{"p":197,"e":0.399,"b":0.494},{"p":198,"e":0.401,"b":0.3},{"p":199,"e":0.403,"b":0.18},{"p":200,"e":0.405,"b":0.35},
{"p":201,"e":0.407,"b":0.543},{"p":202,"e":0.409,"b":0.28},{"p":203,"e":0.411,"b":0.11},{"p":204,"e":0.413,"b":0.619},{"p":205,"e":0.415,"b":0.52},{"p":206,"e":0.418,"b":0.32},{"p":207,"e":0.421,"b":0.861},{"p":208,"e":0.424,"b":0.25},{"p":209,"e":0.427,"b":0.4},{"p":210,"e":0.43,"b":0.23},
{"p":211,"e":0.433,"b":0.39},{"p":212,"e":0.436,"b":0.3},{"p":213,"e":0.439,"b":0.41},{"p":214,"e":0.442,"b":0.29},{"p":215,"e":0.445,"b":0.26},{"p":216,"e":0.448,"b":0.18},{"p":217,"e":0.451,"b":0.42},{"p":218,"e":0.454,"b":0.35},{"p":219,"e":0.457,"b":0.723},{"p":220,"e":0.461,"b":0.31},
{"p":221,"e":0.465,"b":0.25},{"p":222,"e":0.468,"b":0.38},{"p":223,"e":0.471,"b":0.22},{"p":224,"e":0.474,"b":0.656},{"p":225,"e":0.477,"b":0.3},{"p":226,"e":0.48,"b":0.36},{"p":227,"e":0.483,"b":0.59},{"p":228,"e":0.486,"b":0.42},{"p":229,"e":0.489,"b":0.15},{"p":230,"e":0.492,"b":0.4},
{"p":231,"e":0.495,"b":0.28},{"p":232,"e":0.498,"b":0.33},{"p":233,"e":0.501,"b":0.45},{"p":234,"e":0.504,"b":0.47},{"p":235,"e":0.507,"b":0.38},{"p":236,"e":0.51,"b":0.703},{"p":237,"e":0.513,"b":0.5},{"p":238,"e":0.516,"b":0.622},{"p":239,"e":0.52,"b":0.52},{"p":240,"e":0.524,"b":0.48},
{"p":241,"e":0.528,"b":0.31},{"p":242,"e":0.532,"b":0.49},{"p":243,"e":0.536,"b":0.47},{"p":244,"e":0.54,"b":0.36},{"p":245,"e":0.544,"b":0.56},{"p":246,"e":0.548,"b":0.42},{"p":247,"e":0.552,"b":1.612},{"p":248,"e":0.556,"b":0.38},{"p":249,"e":0.56,"b":0.703},{"p":250,"e":0.563,"b":0.45},
{"p":251,"e":0.566,"b":0.56},{"p":252,"e":0.569,"b":0.703},{"p":253,"e":0.572,"b":0.671},{"p":254,"e":0.575,"b":0.027},{"p":255,"e":0.578,"b":0.56},{"p":256,"e":0.581,"b":0.33},{"p":257,"e":0.584,"b":0.58},{"p":258,"e":0.587,"b":0.748},{"p":259,"e":0.59,"b":0.961},{"p":260,"e":0.593,"b":0.014},
{"p":261,"e":0.596,"b":0.45},{"p":262,"e":0.599,"b":0.4},{"p":263,"e":0.602,"b":0.845},{"p":264,"e":0.606,"b":0.5},{"p":265,"e":0.61,"b":0.68},{"p":266,"e":0.614,"b":0.8},{"p":267,"e":0.618,"b":0.56},{"p":268,"e":0.622,"b":0.3},{"p":269,"e":0.626,"b":0.693},{"p":270,"e":0.63,"b":0.45},
{"p":271,"e":0.634,"b":1.264},{"p":272,"e":0.638,"b":0.958},{"p":273,"e":0.642,"b":0.58},{"p":274,"e":0.646,"b":0.62},{"p":275,"e":0.65,"b":0.52},{"p":276,"e":0.655,"b":0.774},{"p":277,"e":0.66,"b":0.6},{"p":278,"e":0.665,"b":0.48},{"p":279,"e":0.67,"b":0.64},{"p":280,"e":0.676,"b":0.56},
{"p":281,"e":0.68,"b":0.42},{"p":282,"e":0.684,"b":0.46},{"p":283,"e":0.688,"b":0.6},{"p":284,"e":0.692,"b":0.884},{"p":285,"e":0.696,"b":0.56},{"p":286,"e":0.7,"b":0.65},{"p":287,"e":0.704,"b":0.39},{"p":288,"e":0.708,"b":0.72},{"p":289,"e":0.712,"b":0.52},{"p":290,"e":0.716,"b":0.6},
{"p":291,"e":0.72,"b":0.774},{"p":292,"e":0.724,"b":0.088},{"p":293,"e":0.728,"b":0.797},{"p":294,"e":0.732,"b":0.7},{"p":295,"e":0.736,"b":0.45},{"p":296,"e":0.74,"b":0.68},{"p":297,"e":0.745,"b":0.52},{"p":298,"e":0.75,"b":0.6},{"p":299,"e":0.755,"b":1.04},{"p":300,"e":0.76,"b":0.871},
{"p":301,"e":0.765,"b":0.42},{"p":302,"e":0.77,"b":0.894},{"p":303,"e":0.775,"b":0.56},{"p":304,"e":0.78,"b":0.7},{"p":305,"e":0.788,"b":0.6},{"p":306,"e":0.796,"b":0.871},{"p":307,"e":0.804,"b":0.45},{"p":308,"e":0.812,"b":0.76},{"p":309,"e":0.82,"b":0.91},{"p":310,"e":0.828,"b":0.52},
{"p":311,"e":0.836,"b":0.64},{"p":312,"e":0.844,"b":0.8},{"p":313,"e":0.852,"b":0.7},{"p":314,"e":0.86,"b":0.6},{"p":315,"e":0.866,"b":0.82},{"p":316,"e":0.872,"b":1.49},{"p":317,"e":0.878,"b":0.72},{"p":318,"e":0.884,"b":0.952},{"p":319,"e":0.89,"b":0.6},{"p":320,"e":0.896,"b":0.86},
{"p":321,"e":0.902,"b":1.17},{"p":322,"e":0.908,"b":0.98},{"p":323,"e":0.914,"b":0.7},{"p":324,"e":0.92,"b":0.76},{"p":325,"e":0.926,"b":0.52},{"p":326,"e":0.932,"b":0.6},{"p":327,"e":0.938,"b":1.29},{"p":328,"e":0.944,"b":0.8},{"p":329,"e":0.95,"b":1.515},{"p":330,"e":0.956,"b":0.88},
{"p":331,"e":0.962,"b":0.65},{"p":332,"e":0.968,"b":1.947},{"p":333,"e":0.974,"b":0.72},{"p":334,"e":0.98,"b":1.235},{"p":335,"e":0.986,"b":0.9},{"p":336,"e":0.992,"b":1.113},{"p":337,"e":0.998,"b":0.056},{"p":338,"e":1.004,"b":0.85},{"p":339,"e":1.01,"b":0.94},{"p":340,"e":1.016,"b":0.7},
{"p":341,"e":1.022,"b":1.345},{"p":342,"e":1.032,"b":0.92},{"p":343,"e":1.044,"b":0.426},{"p":344,"e":1.056,"b":0.871},{"p":345,"e":1.068,"b":0.98},{"p":346,"e":1.08,"b":0.76},{"p":347,"e":1.092,"b":1.02},{"p":348,"e":1.104,"b":0.88},{"p":349,"e":1.116,"b":1.0},{"p":350,"e":1.128,"b":0.95},
{"p":351,"e":1.14,"b":1.46},{"p":352,"e":1.146,"b":1.07},{"p":353,"e":1.152,"b":0.8},{"p":354,"e":1.158,"b":1.06},{"p":355,"e":1.164,"b":0.72},{"p":356,"e":1.17,"b":1.04},{"p":357,"e":1.176,"b":0.86},{"p":358,"e":1.182,"b":0.072},{"p":359,"e":1.188,"b":1.13},{"p":360,"e":1.194,"b":0.96},
{"p":361,"e":1.2,"b":1.1},{"p":362,"e":1.206,"b":0.88},{"p":363,"e":1.212,"b":1.18},{"p":364,"e":1.218,"b":0.95},{"p":365,"e":1.224,"b":1.15},{"p":366,"e":1.23,"b":1.187},{"p":367,"e":1.238,"b":1.351},{"p":368,"e":1.246,"b":0.461},{"p":369,"e":1.254,"b":1.2},{"p":370,"e":1.262,"b":1.12},
{"p":371,"e":1.272,"b":1.04},{"p":372,"e":1.285,"b":1.484},{"p":373,"e":1.3,"b":1.515},{"p":374,"e":1.32,"b":0.9},{"p":375,"e":1.34,"b":1.23},{"p":376,"e":1.36,"b":1.506},{"p":377,"e":1.38,"b":1.3},{"p":378,"e":1.4,"b":1.395},{"p":379,"e":1.42,"b":1.12},{"p":380,"e":1.45,"b":1.58},
{"p":381,"e":1.48,"b":1.2},{"p":382,"e":1.51,"b":1.113},{"p":383,"e":1.54,"b":1.339},{"p":384,"e":1.57,"b":1.82},{"p":385,"e":1.59,"b":1.258},{"p":386,"e":1.61,"b":1.4},{"p":387,"e":1.63,"b":0.95},{"p":388,"e":1.645,"b":1.345},{"p":389,"e":1.66,"b":1.67},{"p":390,"e":1.67,"b":1.484},
{"p":391,"e":1.68,"b":1.48},{"p":392,"e":1.85,"b":1.625},{"p":393,"e":1.9,"b":1.638},{"p":394,"e":1.95,"b":1.7},{"p":395,"e":2.0,"b":2.3},{"p":396,"e":2.03,"b":1.934},{"p":397,"e":2.1,"b":2.02},{"p":398,"e":2.2,"b":2.5},{"p":399,"e":2.26,"b":2.248},{"p":400,"e":2.37,"b":1.9}
]
},
"vconcat":[
{"width":916,"height":277,
"title":"(a) Scenario 1: The absolute difference between real β₁ and estimated β̂₁ (ED-GWR vs. BPD-GWR)",
"data":{"name":"a"},
"layer":[
{"mark":{"type":"bar","width":1.95,"color":"#f3a49c"},
"encoding":{
"x":{"field":"p","type":"quantitative","scale":{"domain":[-15,412.5],"nice":false,"zero":false},"axis":{"values":[0,100,200,300,400],"format":"d","title":"Point.NO.","tickCount":10}},
"y":{"field":"e","type":"quantitative","scale":{"domain":[-0.0058,0.1455],"nice":false,"zero":false},"axis":{"values":[0,0.02,0.04,0.06,0.08,0.1,0.12,0.14],"tickCount":12,"format":".2f","title":null,"labelOverlap":false}},
"y2":{"datum":0},
"color":{"datum":"|β₁ - β̂₁(ED-GWR)|","scale":{"domain":["|β₁ - β̂₁(ED-GWR)|","|β₁ - β̂₁(BPD-GWR)|"],"range":["#f3a49c","#3e3eaa"]},
"legend":{"orient":"none","legendX":33,"legendY":11.5,"title":"\u00a0","titleOrient":"right","titlePadding":164,"titleFontSize":7.5,"padding":7,"labelFontSize":8,"labelColor":"#333","labelFont":"Liberation Sans","symbolType":"circle","symbolSize":9,"symbolStrokeWidth":1.5,"labelOffset":44,"symbolOffset":21.25,"rowPadding":3.5,
"encode":{"symbols":{"update":{"shape":{"signal":"datum.index === 0 ? 'M-16,0H16' : 'circle'"},"stroke":{"signal":"datum.index === 0 ? '#f07a7a' : 'transparent'"},"fill":{"signal":"datum.index === 0 ? 'transparent' : '#3e3eaa'"},"opacity":{"value":1}}}}}}}},
{"mark":{"type":"point","filled":true,"size":9,"opacity":1},
"encoding":{"x":{"field":"p","type":"quantitative"},"y":{"field":"b","type":"quantitative"},"color":{"datum":"|β₁ - β̂₁(BPD-GWR)|"}}}
]},
{"width":916,"height":277,
"title":"(b) Scenario 2: The absolute difference between real β₁ and estimated β̂₁ (ED-GWR vs. BPD-GWR)",
"data":{"name":"b"},
"layer":[
{"mark":{"type":"bar","width":1.95,"color":"#f3a49c"},
"encoding":{
"x":{"field":"p","type":"quantitative","scale":{"domain":[-15,412.5],"nice":false,"zero":false},"axis":{"values":[0,100,200,300,400],"format":"d","title":"Point.NO.","tickCount":10}},
"y":{"field":"e","type":"quantitative","scale":{"domain":[-0.012,0.317],"nice":false,"zero":false},"axis":{"values":[0,0.05,0.1,0.15,0.2,0.25,0.3],"tickCount":12,"format":".2f","title":null,"labelOverlap":false}},
"y2":{"datum":0},
"color":{"datum":"|β₁ - β̂₁(ED-GWR)|","scale":{"domain":["|β₁ - β̂₁(ED-GWR)|","|β₁ - β̂₁(BPD-GWR)|"],"range":["#f3a49c","#3e3eaa"]},
"legend":{"orient":"none","legendX":33,"legendY":11.5,"title":"\u00a0","titleOrient":"right","titlePadding":164,"titleFontSize":7.5,"padding":7,"labelFontSize":8,"labelColor":"#333","labelFont":"Liberation Sans","symbolType":"circle","symbolSize":9,"symbolStrokeWidth":1.5,"labelOffset":44,"symbolOffset":21.25,"rowPadding":3.5,
"encode":{"symbols":{"update":{"shape":{"signal":"datum.index === 0 ? 'M-16,0H16' : 'circle'"},"stroke":{"signal":"datum.index === 0 ? '#f07a7a' : 'transparent'"},"fill":{"signal":"datum.index === 0 ? 'transparent' : '#3e3eaa'"},"opacity":{"value":1}}}}}}}},
{"mark":{"type":"point","filled":true,"size":9,"opacity":1},
"encoding":{"x":{"field":"p","type":"quantitative"},"y":{"field":"b","type":"quantitative"},"color":{"datum":"|β₁ - β̂₁(BPD-GWR)|"}}}
]},
{"width":916,"height":277,
"title":"(c) Scenario 3: The absolute difference between real β₁ and estimated β̂₁ (ED-GWR vs. BPD-GWR)",
"data":{"name":"c"},
"layer":[
{"mark":{"type":"bar","width":1.95,"color":"#f3a49c"},
"encoding":{
"x":{"field":"p","type":"quantitative","scale":{"domain":[-15,412.5],"nice":false,"zero":false},"axis":{"values":[0,100,200,300,400],"format":"d","title":"Point.NO.","tickCount":10}},
"y":{"field":"e","type":"quantitative","scale":{"domain":[-0.1,2.6],"nice":false,"zero":false},"axis":{"values":[0,0.5,1,1.5,2,2.5],"tickCount":12,"format":".1f","title":null,"labelOverlap":false}},
"y2":{"datum":0},
"color":{"datum":"|β₁ - β̂₁(ED-GWR)|","scale":{"domain":["|β₁ - β̂₁(ED-GWR)|","|β₁ - β̂₁(BPD-GWR)|"],"range":["#f3a49c","#3e3eaa"]},
"legend":{"orient":"none","legendX":33,"legendY":11.5,"title":"\u00a0","titleOrient":"right","titlePadding":164,"titleFontSize":7.5,"padding":7,"labelFontSize":8,"labelColor":"#333","labelFont":"Liberation Sans","symbolType":"circle","symbolSize":9,"symbolStrokeWidth":1.5,"labelOffset":44,"symbolOffset":21.25,"rowPadding":3.5,
"encode":{"symbols":{"update":{"shape":{"signal":"datum.index === 0 ? 'M-16,0H16' : 'circle'"},"stroke":{"signal":"datum.index === 0 ? '#f07a7a' : 'transparent'"},"fill":{"signal":"datum.index === 0 ? 'transparent' : '#3e3eaa'"},"opacity":{"value":1}}}}}}}},
{"mark":{"type":"point","filled":true,"size":9,"opacity":1},
"encoding":{"x":{"field":"p","type":"quantitative"},"y":{"field":"b","type":"quantitative"},"color":{"datum":"|β₁ - β̂₁(BPD-GWR)|"}}}
]}
]
}
